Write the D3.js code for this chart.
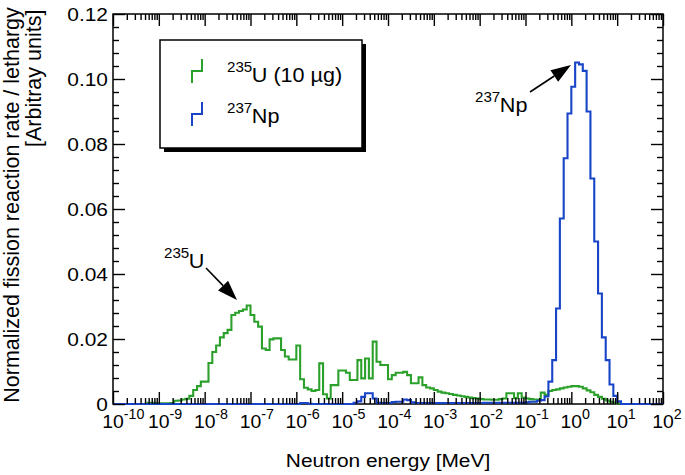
<!DOCTYPE html>
<html>
<head>
<meta charset="utf-8">
<script src="https://cdn.jsdelivr.net/npm/d3@7"></script>
<style>
  body { margin: 0; background: #fff; }
  svg { display: block; font-family: "Liberation Sans", Arial, sans-serif; }
</style>
</head>
<body>
<div id="chart"></div>
<script>
// histogram bins: 12 per decade, starting at 1e-10 MeV
const binStartExp = -10;
const binsPerDecade = 12;

// 235U (10 ug) fission rate per lethargy, one value per bin
const uRate = [
  0, 0, 0, 0, 0, 0, 0, 0, 0,
  0.0004, 0.0004, 0.0002, 0.0002, 0.0002, 0.0002, 0.0003, 0.0010, 0.0011, 0.0014,
  0.0016, 0.0025, 0.0043, 0.0055, 0.0069, 0.0069, 0.0126, 0.0160, 0.0180, 0.0205,
  0.0218, 0.0228, 0.0274, 0.0281, 0.0286, 0.0291, 0.0303, 0.0274, 0.0253, 0.0238,
  0.0171, 0.0166, 0.0199, 0.0202, 0.0202, 0.0166, 0.0146, 0.0137, 0.0137, 0.0180,
  0.0076, 0.0050, 0.0045, 0.0040, 0.0043, 0.0125, 0.0030, 0.0017, 0.0058, 0.0058,
  0.0103, 0.0103, 0.0096, 0.0074, 0.0074, 0.0135, 0.0079, 0.0140, 0.0079, 0.0192,
  0.0130, 0.0120, 0.0120, 0.0076, 0.0089, 0.0096, 0.0096, 0.0099, 0.0089, 0.0064,
  0.0064, 0.0082, 0.0058, 0.0051, 0.0048, 0.0043, 0.0038, 0.0035, 0.0033, 0.0031,
  0.0028, 0.0026, 0.0024, 0.0022, 0.0020, 0.0018, 0.0017, 0.0015, 0.0014, 0.0014,
  0.0013, 0.0013, 0.0015, 0.0017, 0.0033, 0.0033, 0.0018, 0.0033, 0.0020, 0.0017,
  0.0015, 0.0014, 0.0014, 0.0035, 0.0028, 0.0040, 0.0043, 0.0045, 0.0048, 0.0051,
  0.0053, 0.0055, 0.0055, 0.0053, 0.0048, 0.0042, 0.0036, 0.0028, 0.0022, 0.0016,
  0.0011, 0.0007, 0.0004, 0.0002,
  0, 0, 0, 0, 0, 0, 0, 0, 0, 0, 0
];

// 237Np fission rate per lethargy
const npRate = [
  0, 0, 0, 0, 0, 0, 0, 0, 0, 0, 0, 0, 0, 0, 0, 0, 0, 0, 0, 0,
  0, 0, 0, 0, 0, 0, 0, 0, 0, 0, 0, 0, 0, 0, 0, 0, 0, 0, 0, 0,
  0, 0, 0, 0, 0, 0, 0, 0, 0,
  0.0003, 0.0003, 0.0001,
  0, 0, 0, 0, 0, 0, 0, 0, 0, 0, 0,
  0.0004, 0.0008, 0.0022, 0.0033, 0.0033, 0.0017, 0.0004, 0.0003, 0.0003, 0.0003,
  0.0006, 0.0007, 0.0007, 0.0014, 0.0012, 0.0005,
  0.0003, 0.0003, 0.0003, 0.0003, 0.0003, 0.0003, 0.0003, 0.0003, 0.0003, 0.0003,
  0.0003, 0.0003, 0.0003, 0.0003, 0.0003, 0.0003, 0.0003, 0.0003,
  0.0004, 0.0004, 0.0004, 0.0004, 0.0004, 0.0004, 0.0004, 0.0004, 0.0004, 0.0004, 0.0004,
  0.0005, 0.0007, 0.0007, 0.0010, 0.0012, 0.0023, 0.0069, 0.0135, 0.0294, 0.0571,
  0.0756, 0.0894, 0.0976, 0.1051, 0.1045, 0.1025, 0.0900, 0.0694, 0.0500, 0.0340,
  0.0205, 0.0135, 0.0060, 0.0025, 0.0008,
  0, 0, 0, 0, 0, 0, 0, 0, 0, 0, 0
];

const decadeExponents = [-10, -9, -8, -7, -6, -5, -4, -3, -2, -1, 0, 1, 2];
const yTicks = [0, 0.02, 0.04, 0.06, 0.08, 0.10, 0.12];
const yTickLabels = ["0", "0.02", "0.04", "0.06", "0.08", "0.10", "0.12"];
const yMinorStep = 0.004;

const seriesColors = ["#2ba12b", "#1844c8"];

const width = 685, height = 475;
const margin = { left: 113, right: 22, top: 14, bottom: 71 };

const svg = d3.select("#chart").append("svg")
  .attr("width", width)
  .attr("height", height);

const x = d3.scaleLog()
  .domain([Math.pow(10, decadeExponents[0]), Math.pow(10, decadeExponents[decadeExponents.length - 1])])
  .range([margin.left, width - margin.right]);
const y = d3.scaleLinear()
  .domain([0, 0.12])
  .range([height - margin.bottom, margin.top]);

const x0 = x.range()[0], x1 = x.range()[1];
const y0 = y.range()[0], y1 = y.range()[1];

function binPoints(values) {
  const pts = values.map((v, i) => [Math.pow(10, binStartExp + i / binsPerDecade), v]);
  pts.push([Math.pow(10, binStartExp + values.length / binsPerDecade), values[values.length - 1]]);
  return pts;
}

const line = d3.line()
  .x(d => x(d[0]))
  .y(d => y(d[1]))
  .curve(d3.curveStepAfter);

// frame
svg.append("rect")
  .attr("x", x0).attr("y", y1)
  .attr("width", x1 - x0).attr("height", y0 - y1)
  .attr("fill", "none").attr("stroke", "#000").attr("stroke-width", 1.5);

// series
[uRate, npRate].forEach((vals, i) => {
  svg.append("path")
    .attr("d", line(binPoints(vals)))
    .attr("fill", "none")
    .attr("stroke", seriesColors[i])
    .attr("stroke-width", 2.1);
});

// ticks
const majorX = decadeExponents.map(p => Math.pow(10, p));
const minorX = [];
decadeExponents.slice(0, -1).forEach(p => {
  for (let m = 2; m <= 9; m++) minorX.push(m * Math.pow(10, p));
});
const majorY = yTicks;
const minorY = d3.range(0, 0.12 + 1e-9, yMinorStep).filter(v => Math.abs(v / 0.02 - Math.round(v / 0.02)) > 1e-6);

function tickGroup(axis, tx, ty) {
  const g = svg.append("g").attr("transform", `translate(${tx},${ty})`).call(axis);
  g.select(".domain").remove();
  g.selectAll(".tick line").attr("stroke", "#000").attr("stroke-width", 1.4);
  g.selectAll(".tick text").remove();
  return g;
}
tickGroup(d3.axisBottom(x).tickValues(majorX).tickSize(-12), 0, y0);
tickGroup(d3.axisBottom(x).tickValues(minorX).tickSize(-6), 0, y0);
tickGroup(d3.axisTop(x).tickValues(majorX).tickSize(-12), 0, y1);
tickGroup(d3.axisTop(x).tickValues(minorX).tickSize(-6), 0, y1);
tickGroup(d3.axisLeft(y).tickValues(majorY).tickSize(-12), x0, 0);
tickGroup(d3.axisLeft(y).tickValues(minorY).tickSize(-6), x0, 0);
tickGroup(d3.axisRight(y).tickValues(majorY).tickSize(-12), x1, 0);
tickGroup(d3.axisRight(y).tickValues(minorY).tickSize(-6), x1, 0);

// tick labels
const sx = 1.1;
yTicks.forEach((v, i) => {
  svg.append("text")
    .attr("transform", `translate(${x0 - 5},${y(v) + 7}) scale(${sx},1)`)
    .attr("text-anchor", "end")
    .attr("font-size", 19)
    .text(yTickLabels[i]);
});
decadeExponents.forEach(p => {
  const g = svg.append("g")
    .attr("transform", `translate(${x(Math.pow(10, p))},${y0 + 24}) scale(1.02,1)`);
  g.append("text").attr("text-anchor", "middle").attr("font-size", 19).text("10");
  g.append("text").attr("x", 10.5).attr("y", -9).attr("font-size", 14).text(String(p));
});

// axis titles
svg.append("text")
  .attr("transform", `translate(${(x0 + x1) / 2},467) scale(${sx},1)`)
  .attr("text-anchor", "middle")
  .attr("font-size", 19)
  .text("Neutron energy [MeV]");
svg.append("text")
  .attr("transform", "translate(19,205) rotate(-90)")
  .attr("text-anchor", "middle")
  .attr("font-size", 21.5)
  .text("Normalized fission reaction rate / lethargy");
svg.append("text")
  .attr("transform", "translate(41,147) rotate(-90)")
  .attr("text-anchor", "start")
  .attr("font-size", 21.5)
  .text("[Arbitray units]");

// isotope label: superscript mass number + symbol
function isotope(xp, yp, mass, rest) {
  const g = svg.append("g").attr("transform", `translate(${xp},${yp}) scale(1.08,1)`);
  g.append("text").attr("font-size", 14).attr("y", -10).text(mass);
  g.append("text").attr("font-size", 20).attr("x", 23).text(rest);
}

// legend
svg.append("rect").attr("x", 164).attr("y", 44).attr("width", 202).attr("height", 108).attr("fill", "#000");
svg.append("rect").attr("x", 160).attr("y", 40).attr("width", 202).attr("height", 108)
  .attr("fill", "#fff").attr("stroke", "#000").attr("stroke-width", 1.5);
[0, 1].forEach(i => {
  const cy = 71 + i * 43;
  svg.append("path")
    .attr("d", `M192,${cy + 12}V${cy}H202V${cy - 12}`)
    .attr("fill", "none").attr("stroke", seriesColors[i]).attr("stroke-width", 2);
});
isotope(227, 82, "235", "U (10 µg)");
isotope(227, 123, "237", "Np");

// annotations
isotope(164, 268, "235", "U");
isotope(475, 112, "237", "Np");

function arrow(xa, ya, xb, yb) {
  const ang = Math.atan2(yb - ya, xb - xa);
  const len = 20, hw = 7;
  const bx = xb - len * Math.cos(ang), by = yb - len * Math.sin(ang);
  svg.append("line").attr("x1", xa).attr("y1", ya).attr("x2", bx).attr("y2", by)
    .attr("stroke", "#000").attr("stroke-width", 1.6);
  svg.append("path")
    .attr("d", `M${xb},${yb}L${bx + hw * Math.sin(ang)},${by - hw * Math.cos(ang)}L${bx - hw * Math.sin(ang)},${by + hw * Math.cos(ang)}Z`)
    .attr("fill", "#000");
}
arrow(206, 268, 237, 300);
arrow(530, 92, 571, 65);
</script>
</body>
</html>
